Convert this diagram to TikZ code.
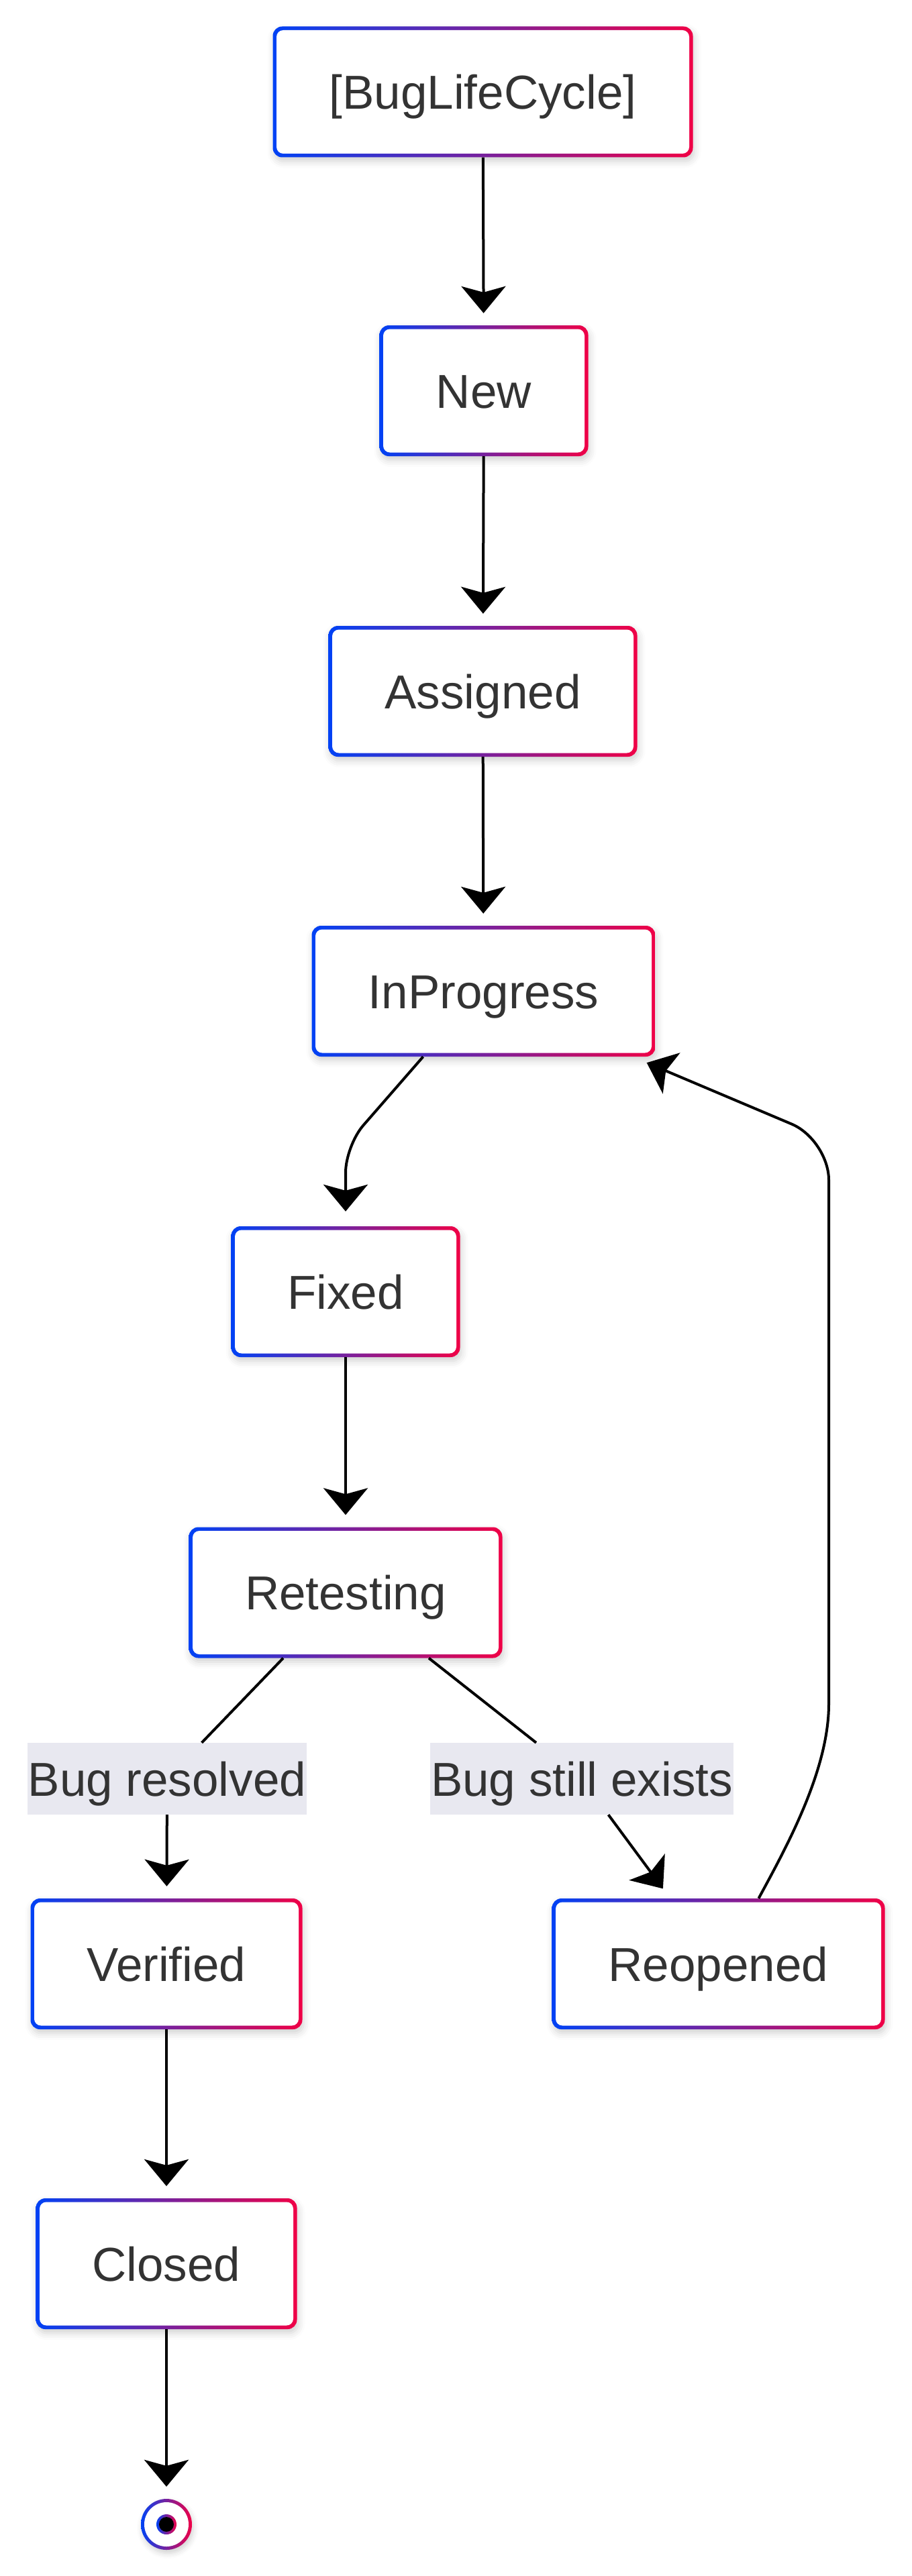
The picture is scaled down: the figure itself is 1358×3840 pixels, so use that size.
\documentclass[tikz,border=0pt]{standalone}
\usepackage{fontspec}
\setmainfont{Liberation Sans}
\usetikzlibrary{arrows.meta,calc,shadows.blur}
\definecolor{cb}{RGB}{0,66,245}
\definecolor{cr}{RGB}{240,0,70}
\definecolor{txt}{RGB}{51,51,51}
\definecolor{lblbg}{RGB}{232,232,240}
\newcommand\dgfont{\fontsize{71}{85}\selectfont}
\begin{document}
\begin{tikzpicture}[x=1pt,y=-1pt,
  state/.style={rectangle, rounded corners=14pt, minimum height=195pt, inner sep=0pt,
    left color=cb, right color=cr, draw=none, text=txt, font=\dgfont,
    text height=51pt, text depth=0pt,
    blur shadow={shadow xshift=2pt, shadow yshift=-6pt, shadow blur radius=10pt, shadow opacity=18},
    path picture={\fill[white, rounded corners=10pt]
      ([shift={(5.5pt,-5.5pt)}]path picture bounding box.north west) rectangle
      ([shift={(-5.5pt,5.5pt)}]path picture bounding box.south east);}},
  endstate/.style={circle, minimum size=76pt, inner sep=0pt, left color=cb, right color=cr, draw=none,
    blur shadow={shadow xshift=2pt, shadow yshift=-5pt, shadow blur radius=8pt, shadow opacity=18},
    path picture={\fill[white] (path picture bounding box.center) circle (33pt);}},
  lbl/.style={fill=lblbg, text=txt, font=\dgfont, inner sep=1pt, minimum height=107pt,
    text height=51pt, text depth=0pt},
  edge/.style={line width=4pt, draw=black},
  arrow/.style={edge, -{Stealth[length=40pt,width=66pt,inset=9pt]}, shorten >=18pt}
]
\useasboundingbox (0,0) rectangle (1358,3840);

\node[state, minimum width=626pt] (start) at (719.5,137) {[BugLifeCycle]};
\node[state, minimum width=311pt] (new) at (721,582.5) {New};
\node[state, minimum width=460pt] (asg) at (719.5,1030.5) {Assigned};
\node[state, minimum width=512pt] (ip) at (720.5,1477.5) {InProgress};
\node[state, minimum width=341pt] (fx) at (515,1925.5) {Fixed};
\node[state, minimum width=467pt] (rt) at (515,2374) {Retesting};
\node[state, minimum width=405pt] (ver) at (248,2927.5) {Verified};
\node[state, minimum width=496pt] (ro) at (1070.5,2927.5) {Reopened};
\node[state, minimum width=389pt] (cl) at (248,3374.5) {Closed};
\node[endstate] (end) at (248,3763) {};
\shade[left color=cb, right color=cr] (end.center) circle (15pt);
\fill[black] (end.center) circle (11pt);

\node[lbl] (l1) at (249,2651.5) {Bug resolved};
\node[lbl] (l2) at (867,2651.5) {Bug still exists};

\draw[arrow] (start) -- (new);
\draw[arrow] (new) -- (asg);
\draw[arrow] (asg) -- (ip);
\draw[arrow, rounded corners=40pt, shorten >=22pt] ($(ip.south)+(-90,0)$) -- ($(fx.north)+(0,-120)$) -- (fx.north);
\draw[arrow] (fx) -- (rt);
\draw[edge] ($(rt.south)+(-93,0)$) -- (l1);
\draw[arrow] (l1) -- (ver);
\draw[edge] ($(rt.south)+(124,0)$) -- (l2);
\draw[arrow] (l2) -- (ro);
\draw[arrow] (ver) -- (cl);
\draw[arrow] (cl) -- (end);
\draw[arrow, shorten >=0pt] ($(ro.north)+(60,0)$) .. controls +(40,-74) and (1235,2640) .. (1235,2540)
  [rounded corners=60pt] -- (1235,1699) -- ($(ip.south east)+(-13,9)$);
\end{tikzpicture}
\end{document}
